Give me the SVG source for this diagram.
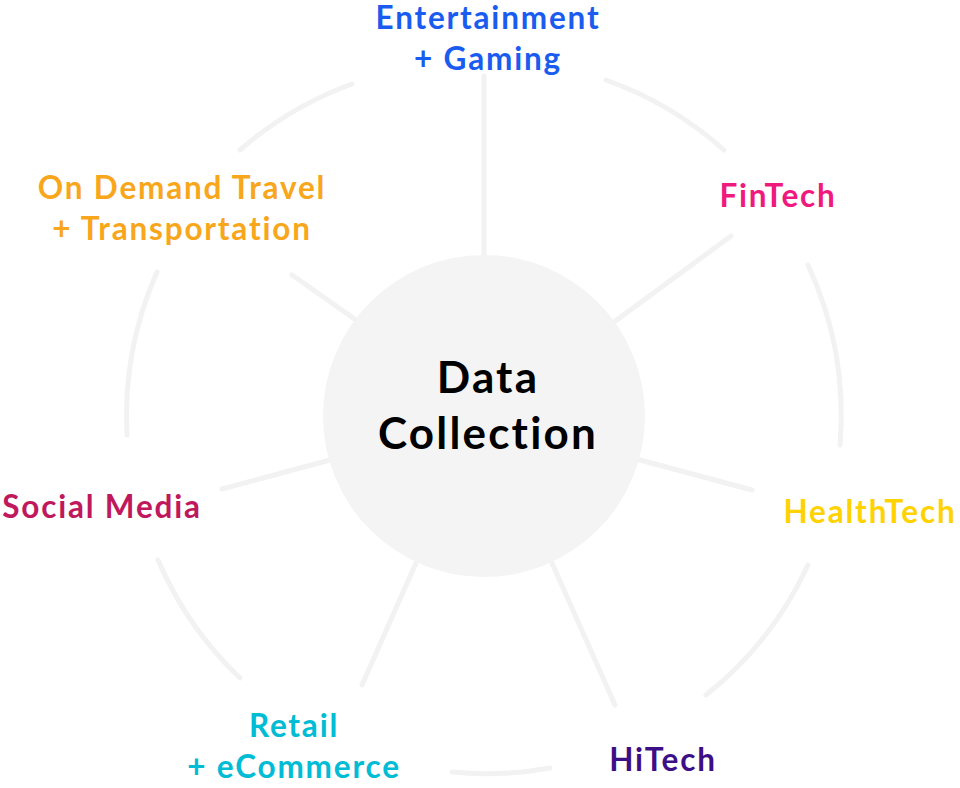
<svg xmlns="http://www.w3.org/2000/svg" width="960" height="788" viewBox="0 0 960 788">
<style>
.ln{stroke:#f2f2f2;stroke-width:5;fill:none;stroke-linecap:round}
.t{font-family:Lato,"Open Sans",sans-serif;font-weight:700;font-size:31.5px;text-anchor:middle;letter-spacing:1.8px}
</style>
<rect width="960" height="788" fill="#fff"/>
<g id="connectors">
<path class="ln" d="M240 150 A357 357 0 0 1 352 84"/>
<path class="ln" d="M606 80 A357 357 0 0 1 724 150"/>
<path class="ln" d="M808 265 A357 357 0 0 1 840 445"/>
<path class="ln" d="M808 565 A357 357 0 0 1 706 695"/>
<path class="ln" d="M550 768 A357 357 0 0 1 452 772"/>
<path class="ln" d="M240 678 A357 357 0 0 1 158 560"/>
<path class="ln" d="M127 435 A357 357 0 0 1 157 272"/>
<line class="ln" x1="484" y1="255" x2="484" y2="76"/>
<line class="ln" x1="614" y1="322" x2="731" y2="236"/>
<line class="ln" x1="640" y1="460" x2="752" y2="490"/>
<line class="ln" x1="552" y1="563" x2="615" y2="705"/>
<line class="ln" x1="416" y1="563" x2="362" y2="685"/>
<line class="ln" x1="330" y1="460" x2="222" y2="489"/>
<line class="ln" x1="356" y1="320" x2="292" y2="275"/>
</g>
<g id="center"><circle cx="484" cy="416" r="161" fill="#f4f4f4"/>
<text class="t" x="488" y="393" fill="#000" style="font-size:44px;letter-spacing:2.2px">Data</text>
<text class="t" x="488" y="449" fill="#000" style="font-size:44px;letter-spacing:2.2px">Collection</text></g>
<g id="entertainment"><text class="t" x="488" y="29" fill="#1a5cf0">Entertainment</text><text class="t" x="488" y="70" fill="#1a5cf0">+ Gaming</text></g>
<g id="fintech"><text class="t" x="778" y="207" fill="#f0197d">FinTech</text></g>
<g id="healthtech"><text class="t" x="870" y="523" fill="#ffd200">HealthTech</text></g>
<g id="hitech"><text class="t" x="663" y="771" fill="#3d0f87">HiTech</text></g>
<g id="retail"><text class="t" x="294" y="737" fill="#00bcd4">Retail</text><text class="t" x="294" y="778" fill="#00bcd4">+ eCommerce</text></g>
<g id="social"><text class="t" x="102" y="518" fill="#c0185c">Social Media</text></g>
<g id="travel"><text class="t" x="182" y="199" fill="#f8a61c">On Demand Travel</text><text class="t" x="182" y="240" fill="#f8a61c">+ Transportation</text></g>
</svg>
